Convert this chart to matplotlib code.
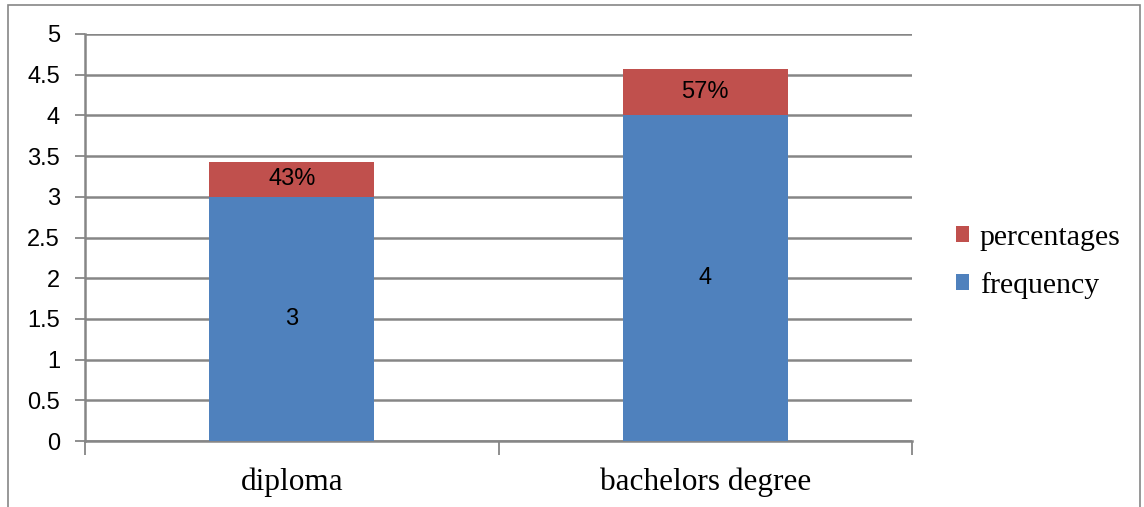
import numpy as np
import matplotlib
matplotlib.use("Agg")
import matplotlib.pyplot as plt
from matplotlib.patches import Rectangle

categories = ["diploma", "bachelors degree"]
frequency = [3, 4]
percentages = [0.43, 0.57]
pct_labels = ["43%", "57%"]
yticks = [0, 0.5, 1, 1.5, 2, 2.5, 3, 3.5, 4, 4.5, 5]
ytick_labels = ["0", "0.5", "1", "1.5", "2", "2.5", "3", "3.5", "4", "4.5", "5"]

blue = "#4F81BD"
red = "#C0504D"
grid_c = "#868686"

fig = plt.figure(figsize=(11.44, 5.07), dpi=100)
ax = fig.add_axes([85 / 1144, 1 - 441 / 507, (912 - 85) / 1144, (441 - 34) / 507])

x = np.arange(len(categories))
b1 = ax.bar(x, frequency, width=0.4, color=blue, label="frequency", zorder=3)
b2 = ax.bar(x, percentages, width=0.4, bottom=frequency, color=red,
            label="percentages", zorder=3)

# labels inside segments
for i in range(len(categories)):
    ax.text(x[i], frequency[i] / 2, str(frequency[i]), ha="center", va="center",
            fontsize=17, family="Liberation Sans", zorder=4)
    ax.text(x[i], frequency[i] + percentages[i] / 2, pct_labels[i], ha="center",
            va="center", fontsize=17, family="Liberation Sans", zorder=4)

ax.set_xlim(-0.5, 1.5)
ax.set_ylim(0, 5)
ax.set_yticks(yticks)
ax.set_yticklabels(ytick_labels, fontsize=17, family="Liberation Sans")
ax.yaxis.grid(True, color=grid_c, linewidth=1.8, zorder=0)

# category ticks at boundaries, labels centered
ax.set_xticks([-0.5, 0.5, 1.5])
ax.set_xticklabels([])
ax.set_xticks(x, minor=True)
ax.set_xticklabels(categories, minor=True, fontsize=22.5, family="Liberation Serif")
ax.tick_params(axis="x", which="minor", length=0, pad=19)
ax.tick_params(axis="x", which="major", length=10, width=1.3, color=grid_c)
ax.tick_params(axis="y", length=7, width=1.3, color=grid_c, pad=11)

for s in ["top", "right"]:
    ax.spines[s].set_visible(False)
ax.spines["left"].set_color(grid_c)
ax.spines["left"].set_linewidth(1.8)
ax.spines["bottom"].set_color(grid_c)
ax.spines["bottom"].set_linewidth(1.8)

handles = [b2, b1]
leg = fig.legend(handles, ["percentages", "frequency"], loc="center left",
                 bbox_to_anchor=(929 / 1144, 1 - 262 / 507), frameon=False,
                 prop={"family": "Liberation Serif", "size": 21.5},
                 handlelength=0.45, handleheight=0.45, handletextpad=0.35,
                 labelspacing=0.7)

# outer border of chart
fig.add_artist(Rectangle((8 / 1144, -0.05), (1140 - 8) / 1144, 1.05 - 5 / 507,
                         transform=fig.transFigure, fill=False,
                         edgecolor=grid_c, linewidth=1.2))

fig.savefig("out.png", dpi=100)
